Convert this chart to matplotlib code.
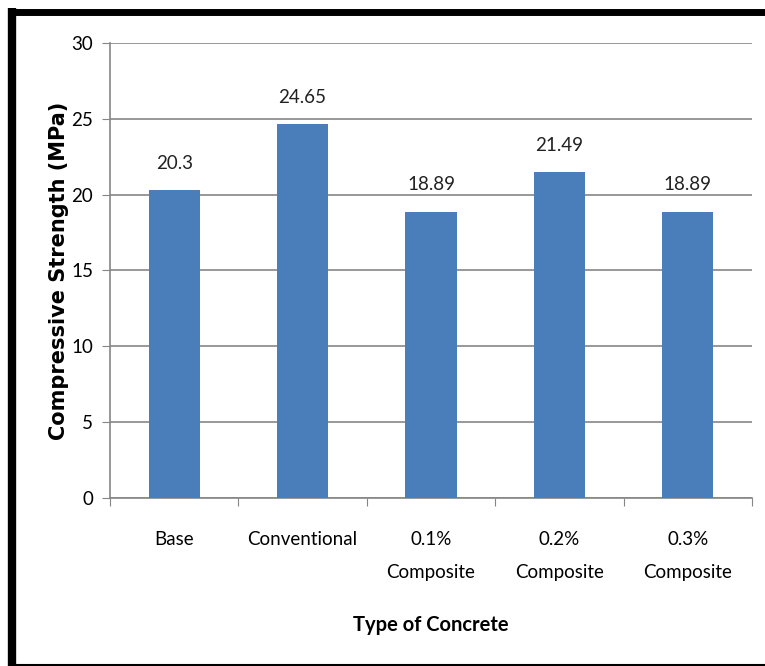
import matplotlib.pyplot as plt
from matplotlib.lines import Line2D
import numpy as np

# compressive strength per concrete type
concrete_types = ['Base', 'Conventional', '0.1%\nComposite', '0.2%\nComposite', '0.3%\nComposite']
strength = [20.3, 24.65, 18.89, 21.49, 18.89]
value_labels = ['20.3', '24.65', '18.89', '21.49', '18.89']
y_ticks = [0, 5, 10, 15, 20, 25, 30]

body = ['Lato', 'DejaVu Sans']
grey = '#868686'

fig = plt.figure(figsize=(7.65, 6.66), dpi=100)
ax = fig.add_axes([0.1438, 0.2523, 0.983 - 0.1438, 0.9354 - 0.2523])

x = np.arange(len(concrete_types))
bars = ax.bar(x, strength, width=0.4, color='#4a7ebb', zorder=3)

for xi, val, lab in zip(x, strength, value_labels):
    ax.annotate(lab, (xi, val), xytext=(0, 13), textcoords='offset points',
                ha='center', va='bottom', fontsize=13.5, family=body, color='#222222')

ax.set_xlim(-0.5, len(concrete_types) - 0.5)
ax.set_ylim(0, 30)
ax.set_yticks(y_ticks)
ax.set_yticklabels([str(t) for t in y_ticks], family=body, fontsize=13.5)
ax.yaxis.grid(True, color=grey, linewidth=1.2, zorder=0)

# category ticks sit between bars, labels sit under bars
ax.set_xticks(np.arange(len(concrete_types) + 1) - 0.5)
ax.set_xticklabels([])
ax.set_xticks(x, minor=True)
ax.set_xticklabels(concrete_types, minor=True, family=body, fontsize=13.5,
                   linespacing=2.1, va='top')
ax.tick_params(axis='x', which='minor', length=0, pad=24)
ax.tick_params(axis='x', which='major', length=6, color=grey, direction='out')
ax.tick_params(axis='y', length=6, color=grey, direction='out', pad=6)

for side in ['top', 'right']:
    ax.spines[side].set_visible(False)
for side in ['left', 'bottom']:
    ax.spines[side].set_color(grey)
    ax.spines[side].set_linewidth(1.2)

ax.set_ylabel('Compressive Strength (MPa)', fontsize=15, fontweight='bold', labelpad=2)
ax.set_xlabel('Type of Concrete', family=body, fontsize=14.5, fontweight='bold', labelpad=25)

# black frame around the chart
fig.add_artist(Line2D([12 / 765, 12 / 765], [0, 1 - 8 / 666], color='black',
                      linewidth=6, solid_capstyle='butt'))
fig.add_artist(Line2D([8 / 765, 1], [1 - 11.5 / 666, 1 - 11.5 / 666], color='black',
                      linewidth=5, solid_capstyle='butt'))
fig.add_artist(Line2D([8 / 765, 1], [1.5 / 666, 1.5 / 666], color='black',
                      linewidth=1.5, solid_capstyle='butt'))

fig.savefig('out.png', dpi=100)
